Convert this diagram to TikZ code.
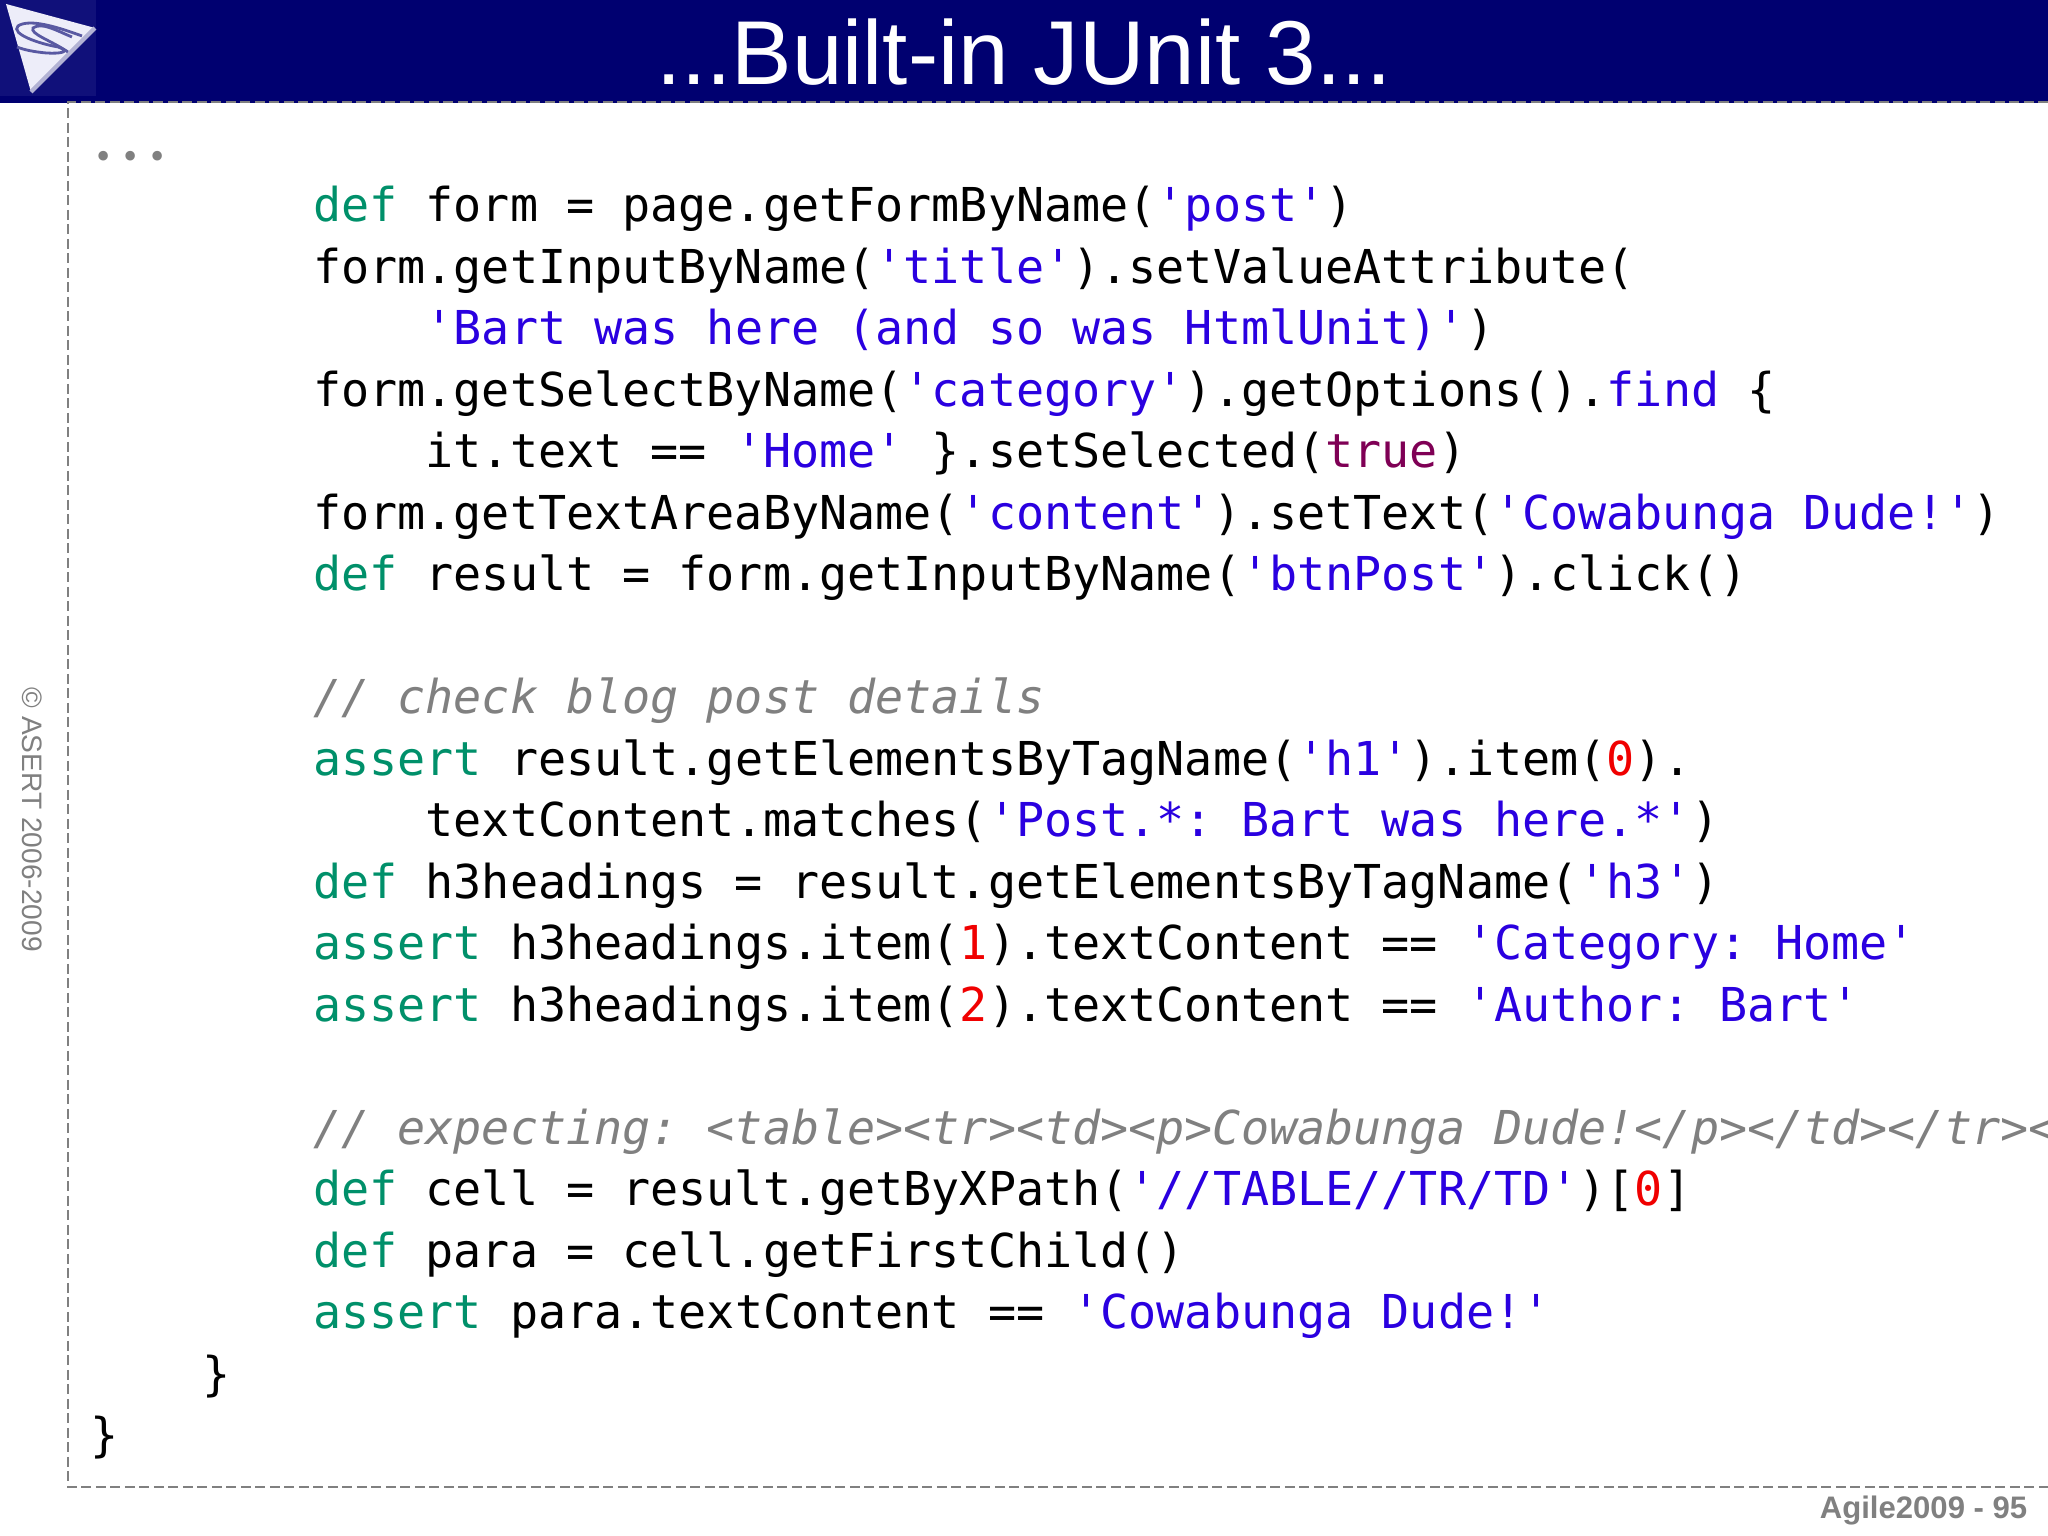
\documentclass[tikz,border=0pt]{standalone}
\usepackage{fontspec}
\usepackage{xcolor}
\usepackage{tikz}
\setmainfont{Liberation Sans}
\newfontfamily\codefont{DejaVu Sans Mono}
\newfontfamily\dotsfont[LetterSpace=13.8]{Poppins}
\frenchspacing
\definecolor{navy}{HTML}{000070}
\definecolor{logobox}{HTML}{10107A}
\definecolor{logoface}{HTML}{EDEDF9}
\definecolor{muted}{HTML}{808080}
\definecolor{kwgreen}{HTML}{00906A}
\definecolor{strblue}{HTML}{2A00E0}
\definecolor{boolpurple}{HTML}{7F0055}
\definecolor{numred}{HTML}{F00000}
\newcommand{\kw}[1]{\textcolor{kwgreen}{#1}}
\newcommand{\str}[1]{\textcolor{strblue}{#1}}
\newcommand{\num}[1]{\textcolor{numred}{#1}}
\tikzset{
  code/.style={anchor=base west, inner sep=0pt, text=black, font=\codefont\fontsize{13.29pt}{17pt}\selectfont},
  comment/.style={code, text=muted, font=\codefont\itshape\fontsize{13.29pt}{17pt}\selectfont},
  frameline/.style={draw=muted, line width=0.6pt, dash pattern=on 1mm off 0.45mm},
  title/.style={anchor=base, inner sep=0pt, text=white, font=\fontsize{25.8pt}{30pt}\selectfont},
  footer/.style={inner sep=0pt, text=muted, font=\bfseries\fontsize{8.85pt}{10pt}\selectfont},
  side/.style={inner sep=0pt, text=muted, font=\fontsize{8pt}{10pt}\selectfont}
}
\begin{document}
\begin{tikzpicture}
  \useasboundingbox (0,0) rectangle (20.48,15.36);
  \fill[white] (0,0) rectangle (20.48,15.36);
  % banner and logo
  \fill[navy] (0,14.33) rectangle (20.48,15.36);
  \fill[logobox] (0,14.40) rectangle (0.96,15.36);
  \begin{scope}[shift={(0,15.36)},x=0.01cm,y=-0.01cm]
    \fill[logoface] (6,4) -- (95,28) -- (31,92) -- cycle;
    \draw[white!70!navy, line width=1.2pt] (95,28) -- (31,92);
    \draw[navy!65!white, line width=0.8pt] (82,36) .. controls (60,28) and (30,18) .. (18,26) .. controls (10,34) and (40,44) .. (58,47) .. controls (72,52) and (60,54) .. (46,53) .. controls (35,52) and (24,50) .. (17,47);
    \draw[navy!65!white, line width=0.8pt] (72,37) .. controls (55,30) and (42,22) .. (33,28) .. controls (30,34) and (50,40) .. (68,52);
  \end{scope}
  \node[title] (heading) at (10.24,14.51) {...Built-in JUnit 3...};
  % frame
  \draw[frameline] (20.48,14.34) -- (0.68,14.34) -- (0.68,0.49) -- (20.48,0.49);
  \node[side, rotate=-90, anchor=base west] (copyright) at (0.22,8.49) {© ASERT 2006-2009};
  \node[footer, anchor=base east] (pagenum) at (20.28,0.17) {Agile2009 - 95};
  % code
  \node[code, text=muted, font=\dotsfont\fontsize{22pt}{26pt}\selectfont] (dots) at (0.95,13.75) {...};
  \node[code] (line01) at (3.125,13.14) {\kw{def} form = page.getFormByName(\str{'post'})};
  \node[code] (line02) at (3.125,12.525) {form.getInputByName(\str{'title'}).setValueAttribute(};
  \node[code] (line03) at (4.25,11.91) {\str{'Bart was here (and so was HtmlUnit)'})};
  \node[code] (line04) at (3.125,11.295) {form.getSelectByName(\str{'category'}).getOptions().\str{find} \{};
  \node[code] (line05) at (4.25,10.68) {it.text == \str{'Home'} \}.setSelected(\textcolor{boolpurple}{true})};
  \node[code] (line06) at (3.125,10.065) {form.getTextAreaByName(\str{'content'}).setText(\str{'Cowabunga Dude!'})};
  \node[code] (line07) at (3.125,9.45) {\kw{def} result = form.getInputByName(\str{'btnPost'}).click()};
  \node[comment] (line09) at (3.125,8.22) {// check blog post details};
  \node[code] (line10) at (3.125,7.605) {\kw{assert} result.getElementsByTagName(\str{'h1'}).item(\num{0}).};
  \node[code] (line11) at (4.25,6.99) {textContent.matches(\str{'Post.*: Bart was here.*'})};
  \node[code] (line12) at (3.125,6.375) {\kw{def} h3headings = result.getElementsByTagName(\str{'h3'})};
  \node[code] (line13) at (3.125,5.76) {\kw{assert} h3headings.item(\num{1}).textContent == \str{'Category: Home'}};
  \node[code] (line14) at (3.125,5.145) {\kw{assert} h3headings.item(\num{2}).textContent == \str{'Author: Bart'}};
  \node[comment] (line16) at (3.125,3.915) {// expecting: <table><tr><td><p>Cowabunga Dude!</p></td></tr><};
  \node[code] (line17) at (3.125,3.3) {\kw{def} cell = result.getByXPath(\str{'//TABLE//TR/TD'})[\num{0}]};
  \node[code] (line18) at (3.125,2.685) {\kw{def} para = cell.getFirstChild()};
  \node[code] (line19) at (3.125,2.07) {\kw{assert} para.textContent == \str{'Cowabunga Dude!'}};
  \node[code] (line20) at (2.02,1.455) {\}};
  \node[code] (line21) at (0.9,0.84) {\}};
\end{tikzpicture}
\end{document}
